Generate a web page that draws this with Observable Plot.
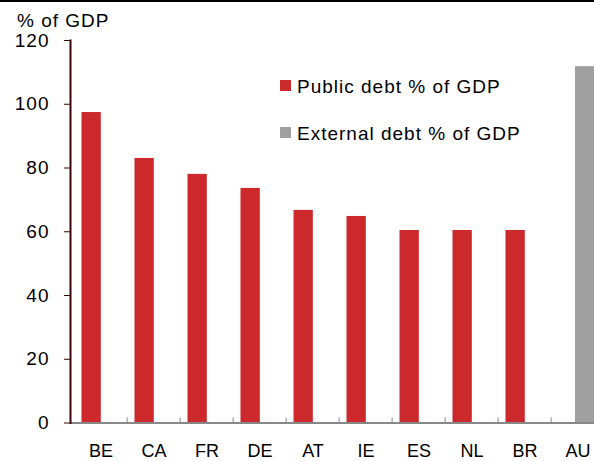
<!DOCTYPE html>
<html>
<head>
<meta charset="utf-8">
<script src="https://cdn.jsdelivr.net/npm/d3@7"></script>
<script src="https://cdn.jsdelivr.net/npm/@observablehq/plot@0.6"></script>
<style>
  html, body { margin: 0; padding: 0; overflow: hidden; background: #fff; }
  #wrap { position: relative; width: 594px; height: 461px; font-family: "Liberation Sans", Arial, sans-serif; }
  #topline { position: absolute; left: 0; top: 0; width: 594px; height: 2px; background: #000; }
  .lbl { position: absolute; font-size: 19px; line-height: 19px; letter-spacing: 1px; color: #000; white-space: nowrap; }
  .sw { position: absolute; width: 11px; height: 11px; }
  svg { display: block; }
</style>
</head>
<body>
<div id="wrap">
  <div id="chart"></div>
  <div id="topline"></div>
  <div class="lbl" id="title" style="left:17px; top:11px;"></div>
  <div id="legend"></div>
</div>
<script>
const categories = ["BE", "CA", "FR", "DE", "AT", "IE", "ES", "NL", "BR", "AU"];
const publicDebt = [97.4, 83.0, 78.0, 73.6, 66.7, 64.8, 60.4, 60.4, 60.4, null];
const externalDebt = [null, null, null, null, null, null, null, null, null, 111.8];
const yTicks = [0, 20, 40, 60, 80, 100, 120];
const seriesNames = ["Public debt % of GDP", "External debt % of GDP"];
const seriesColors = ["#cc292c", "#a0a0a0"];
const yTitle = "% of GDP";

const W = 594, H = 461;
const mL = 70, mR = -13, mT = 40, mB = 38.5;
const step = (W - mR - mL) / categories.length;

const pubData = categories.map((c, i) => ({c, v: publicDebt[i]})).filter(d => d.v != null);
const extData = categories.map((c, i) => ({c, v: externalDebt[i]})).filter(d => d.v != null);

const svg = Plot.plot({
  width: W,
  height: H,
  marginLeft: mL,
  marginRight: mR,
  marginTop: mT,
  marginBottom: mB,
  style: {fontFamily: "'Liberation Sans', Arial, sans-serif", background: "#fff", color: "#000"},
  x: {type: "band", domain: categories, padding: 0},
  y: {domain: [0, 120]},
  marks: [
    Plot.barY(pubData, {x: "c", y: "v", fill: seriesColors[0], insetLeft: 7.5, insetRight: step - 27.5}),
    Plot.barY(extData, {x: "c", y: "v", fill: seriesColors[1], insetLeft: 24, insetRight: step - 44}),
    Plot.ruleX(categories.slice(1), {x: d => d, y1: 0, y2: 1.6, stroke: "#888", strokeWidth: 1, dx: -step / 2}),
    Plot.ruleY([0], {stroke: "#888", strokeWidth: 2}),
    Plot.frame({anchor: "left", stroke: "#3a0505", strokeWidth: 2}),
    Plot.axisY({ticks: yTicks, tickSize: 6, tickPadding: 15, stroke: "#3a0505", fontSize: 19, label: null}),
    Plot.axisX({tickSize: 0, tickPadding: 21, fontSize: 18, label: null})
  ]
});
d3.select(svg).selectAll('g[aria-label="y-axis tick label"] text').attr("letter-spacing", 1);
d3.select(svg).selectAll('g[aria-label="y-axis tick label"]').attr("fill", "#000");
document.getElementById("chart").appendChild(svg);

document.getElementById("title").textContent = yTitle;

const legend = document.getElementById("legend");
const legendRows = [{top: 80, text: 77}, {top: 127, text: 124}];
seriesNames.forEach((name, i) => {
  const sw = document.createElement("div");
  sw.className = "sw";
  sw.style.left = "280px";
  sw.style.top = legendRows[i].top + "px";
  sw.style.background = seriesColors[i];
  legend.appendChild(sw);
  const t = document.createElement("div");
  t.className = "lbl";
  t.style.left = "297px";
  t.style.top = legendRows[i].text + "px";
  t.textContent = name;
  legend.appendChild(t);
});
</script>
</body>
</html>
